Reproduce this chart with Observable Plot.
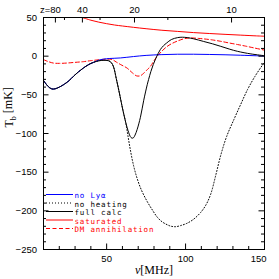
<!DOCTYPE html>
<html><head><meta charset="utf-8">
<script src="https://cdn.jsdelivr.net/npm/d3@7"></script>
<script src="https://cdn.jsdelivr.net/npm/@observablehq/plot@0.6"></script>
<style>html,body{margin:0;padding:0;background:#fff}</style>
</head><body><div id="chart"></div>
<script>
// ---- data (frequency in MHz, brightness temperature in mK) ----
const fullNu = [10,12,14,16,19,22.6,26,29,32,35.3,38.5,41.7,45,48,51.2,53,54.4,56.1,58,60,62,64,65,66,67,68,69.3,71.4,73.5,75.7,76.6,78,79.5,81,82.5,84,86,88,91,95,98,101,105,111.5,117,122.3,128,133,141.4,150];
const fullT  = [-31.4,-37,-41,-42.6,-41,-37,-32,-26,-20.5,-15.3,-11,-8,-6,-5.4,-5.9,-8.5,-14,-29,-47,-67,-85,-99,-104,-106,-105.5,-102,-95,-79,-57,-37,-30,-20,-11,-3.5,3,8.5,13.5,17,21.5,24,24.5,24,22.5,19,16,12.7,9,6.2,2.9,0.6];

const noHeatNu = [10,12,14,16,19,22.6,26,29,32,35.3,38.5,41.7,45,48,51.2,53,54.4,56.1,58,60,62,63.5,65,67,69.3,72,75.7,79,82,85,88.4,91,93.7,97,101,105,109.6,113,116,119,122.3,126,130.6,135,139.3,144,148.9,150];
const noHeatT  = [-31.4,-37,-41,-42.6,-41,-37,-32,-26,-20.5,-15.3,-11,-8,-6,-5.4,-5.9,-8.5,-14,-29,-47,-67,-85,-103,-121,-141,-158,-173,-188,-199,-208,-214,-218,-220,-220.5,-219,-216,-211,-202,-192,-178,-155,-128,-104,-82,-62,-43,-26,-11,-8];

const noLyaNu = [10,12,14,16,19,22.6,26,29,32,35.3,38.5,41.7,45,48,52,58.7,67,75,85,95,105,115,125,135,145,150];
const noLyaT  = [-31.4,-37,-41,-42.6,-41,-37,-32,-26,-20.5,-15.3,-11,-8,-5.2,-3.8,-3,-2.3,-0.5,1,2,2.5,2.5,2.2,1.8,1.2,0.5,0.2];

const satNu = [34.6,40,45,50,55,60,67,75,85,95,105,115,125,135,145,150];
const satT  = [50,46.5,44,42,40.3,39,37.3,35.5,33.5,32,30.5,29.3,28.2,27.2,26.2,25.8];

const dmNu = [10,13,16.2,20,24.8,30,35.3,40,46,50,53.4,56,59,63,66,69,71.4,73.5,75.7,77.8,80,82,85,88.4,91.5,94.8,99,103,108,111.7,117,122.3,127,133,138,143.5,150];
const dmT  = [-4.5,-7,-8.9,-9.3,-8.9,-8,-7.1,-5.8,-4.5,-3.9,-4.2,-7.5,-11,-15.5,-21,-25.5,-25.3,-22,-17.5,-13,-6,-0.3,6.5,12.7,16.5,19.5,22.5,23.6,23,22.3,21,19.2,17.3,15,13,10.6,7.8];

// ---- axes ----
const xMajor = [50,100,150];
const xMinor = [20,30,40,60,70,80,90,110,120,130,140];
const yMajor = [-250,-200,-150,-100,-50,0,50];
const yMinor = d3.range(-240,50,10).filter(v => v % 50 !== 0);
const zMajor = [80,40,20,10];
const zMinor = [60,30,15];
const legendLabels = ["no Lyα","no heating","full calc","saturated","DM annihilation"];

// ---- layout ----
const W = 279, H = 279, mL = 43, mR = 15, mT = 17, mB = 30;
const fw = W - mL - mR, fh = H - mT - mB;
const HI = 1420.4; // 21cm rest frequency, MHz: nu = HI/(1+z)
const xs = d3.scaleLinear([10,150],[mL, W - mR]);
const ys = d3.scaleLinear([-250,50],[H - mB, mT]);

const pts = (nu, t) => nu.map((v,i) => ({nu: v, t: t[i]}));
const fmt = d => d < 0 ? "\u2212" + (-d) : String(d);
const tickFont = {fontFamily: "Liberation Sans", fontSize: 9.5};

const legendStyles = [
  {stroke: "#0000ff", dash: null},
  {stroke: "black", dash: "1,2"},
  {stroke: "black", dash: null},
  {stroke: "#ff0000", dash: null},
  {stroke: "#ff0000", dash: "4,2.5"}
];
const legendX1 = 46, legendX2 = 73, legendTextX = 74, legendRow0 = 194, legendStep = 8.5;

const legendMarks = legendLabels.flatMap((lab, i) => {
  const py = legendRow0 + legendStep * i;
  const s = legendStyles[i];
  return [
    Plot.ruleY([ys.invert(py)], {x1: xs.invert(legendX1), x2: xs.invert(legendX2), stroke: s.stroke, strokeDasharray: s.dash, strokeWidth: 1}),
    Plot.text([lab], {frameAnchor: "top-left", dx: legendTextX - mL, dy: py - 1.5 - mT, textAnchor: "start",
      text: d => d, fill: s.stroke, fontFamily: "DejaVu Sans Mono", fontSize: 7.5, ariaLabel: "legend-text"})
  ];
});

const svg = Plot.plot({
  width: W, height: H,
  marginLeft: mL, marginRight: mR, marginTop: mT, marginBottom: mB,
  x: {domain: [10,150], axis: null},
  y: {domain: [-250,50], axis: null},
  style: {background: "white", color: "black"},
  marks: [
    // curves
    Plot.line(pts(satNu, satT), {x: "nu", y: "t", stroke: "#ff0000", strokeWidth: 1, curve: "catmull-rom"}),
    Plot.line(pts(dmNu, dmT), {x: "nu", y: "t", stroke: "#ff0000", strokeWidth: 1, strokeDasharray: "4,2.5", curve: "catmull-rom"}),
    Plot.line(pts(noHeatNu, noHeatT), {x: "nu", y: "t", stroke: "black", strokeWidth: 1, strokeDasharray: "1,2", curve: "catmull-rom"}),
    Plot.line(pts(noLyaNu, noLyaT), {x: "nu", y: "t", stroke: "#0000ff", strokeWidth: 1, curve: "catmull-rom"}),
    Plot.line(pts(fullNu, fullT), {x: "nu", y: "t", stroke: "black", strokeWidth: 1, curve: "catmull-rom"}),
    // frame
    Plot.frame({stroke: "black", strokeWidth: 1}),
    // bottom ticks
    Plot.tickX(xMajor, {x: d => d, insetTop: fh - 5.5}),
    Plot.tickX(xMinor, {x: d => d, insetTop: fh - 3}),
    // top ticks (redshift)
    Plot.tickX(zMajor, {x: z => HI / (1 + z), insetBottom: fh - 5.5}),
    Plot.tickX(zMinor, {x: z => HI / (1 + z), insetBottom: fh - 3}),
    // left & right ticks
    Plot.tickY(yMajor, {y: d => d, insetRight: fw - 5.5}),
    Plot.tickY(yMinor, {y: d => d, insetRight: fw - 3}),
    Plot.tickY(yMajor, {y: d => d, insetLeft: fw - 5.5}),
    Plot.tickY(yMinor, {y: d => d, insetLeft: fw - 3}),
    // tick labels
    Plot.text(yMajor, {y: d => d, text: fmt, frameAnchor: "left", textAnchor: "end", dx: -6.5, ...tickFont}),
    Plot.text(xMajor.slice(0, -1), {x: d => d, text: d => String(d), frameAnchor: "bottom", dy: 12, ...tickFont}),
    Plot.text(xMajor.slice(-1), {x: d => d, text: d => String(d), frameAnchor: "bottom", dy: 12, textAnchor: "end", dx: 2, ...tickFont}),
    Plot.text(zMajor.slice(1), {x: z => HI / (1 + z), text: z => String(z), frameAnchor: "top", dy: -11.5, ...tickFont}),
    Plot.text(zMajor.slice(0, 1), {x: z => HI / (1 + z), text: z => "z=" + z, frameAnchor: "top", dy: -11.5, textAnchor: "end", dx: 5.5, ...tickFont}),
    // axis titles
    Plot.text(["Tb [mK]"], {text: d => d, frameAnchor: "left", dx: -34, dy: -6, rotate: -90, fontFamily: "Liberation Serif", fontSize: 12}),
    Plot.text(["ν[MHz]"], {text: d => d, frameAnchor: "bottom", dy: 24, fontFamily: "Liberation Serif", fontSize: 12}),
    ...legendMarks
  ]
});

// subscript / italic in axis titles, letter spacing in legend
const allText = d3.select(svg).selectAll("text");
allText.filter(function() { return this.textContent === "Tb [mK]"; }).each(function() {
  const t = d3.select(this);
  t.text(null);
  t.append("tspan").text("T");
  t.append("tspan").attr("font-size", "8").attr("dy", "0.3em").text("b");
  t.append("tspan").attr("dy", "-0.3em").text(" [mK]");
});
allText.filter(function() { return this.textContent === "ν[MHz]"; }).each(function() {
  const t = d3.select(this);
  t.text(null);
  t.append("tspan").attr("font-style", "italic").text("ν");
  t.append("tspan").text("[MHz]");
});
allText.filter(function() { return legendLabels.includes(this.textContent); })
  .style("letter-spacing", "0.8px");

document.getElementById("chart").appendChild(svg);
</script>
</body></html>
